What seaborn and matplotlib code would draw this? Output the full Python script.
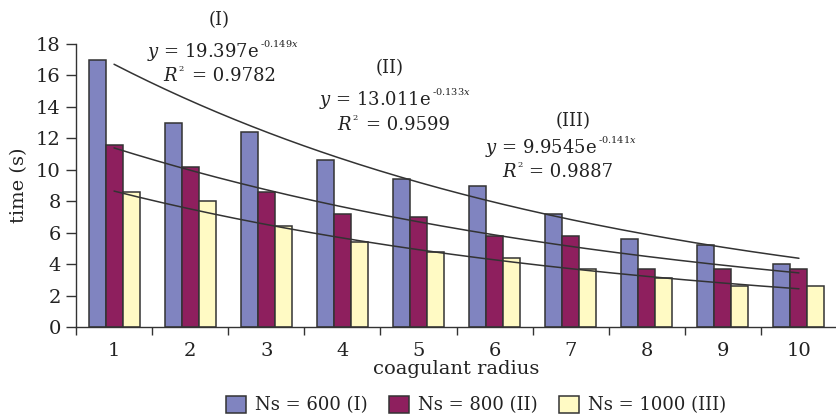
import numpy as np
import pandas as pd
import matplotlib
matplotlib.use("Agg")
import matplotlib.pyplot as plt
import seaborn as sns

radius = [1, 2, 3, 4, 5, 6, 7, 8, 9, 10]
series_names = ["Ns = 600 (I)", "Ns = 800 (II)", "Ns = 1000 (III)"]
ns600 = [17.0, 13.0, 12.4, 10.6, 9.4, 9.0, 7.2, 5.6, 5.2, 4.0]
ns800 = [11.6, 10.2, 8.6, 7.2, 7.0, 5.8, 5.8, 3.7, 3.7, 3.7]
ns1000 = [8.6, 8.0, 6.4, 5.4, 4.8, 4.4, 3.7, 3.1, 2.6, 2.6]
fit_a = [19.397, 13.011, 9.9545]
fit_k = ["-0.149", "-0.133", "-0.141"]
fit_r2 = ["0.9782", "0.9599", "0.9887"]
fit_tags = ["(I)", "(II)", "(III)"]
yticks = [0, 2, 4, 6, 8, 10, 12, 14, 16, 18]

colors = ["#8084C0", "#8E1F5E", "#FFFAC4"]
TXT = "#222222"

sns.set_theme(style="white")
plt.rcParams["font.family"] = ["DejaVu Serif"]
plt.rcParams["mathtext.fontset"] = "dejavuserif"

df = pd.DataFrame({
    "radius": radius * 3,
    "time": ns600 + ns800 + ns1000,
    "series": [series_names[0]] * 10 + [series_names[1]] * 10 + [series_names[2]] * 10,
})

W, H = 837, 417
fig = plt.figure(figsize=(W / 100, H / 100), dpi=100)
ax = fig.add_axes([76 / W, 1 - 327 / H, (W - 76) / W, (327 - 44) / H])

sns.barplot(data=df, x="radius", y="time", hue="series", hue_order=series_names,
            palette=colors, width=0.67, gap=0, edgecolor="#333333", linewidth=1.1,
            saturation=1, ax=ax, legend=True)

# exponential trend lines from the stated fit equations
xs = np.linspace(1, 10, 200)
for a, k in zip(fit_a, fit_k):
    ax.plot(xs - 1, a * np.exp(float(k) * xs), color="#333333", lw=1.1, zorder=5)

ax.set_xlim(-0.5, 9.5)
ax.set_ylim(0, 18)
ax.set_yticks(yticks)
ax.set_yticklabels([str(t) for t in yticks], fontsize=14, color=TXT)
ax.set_xticks(range(10))
ax.set_xticklabels([str(r) for r in radius], fontsize=14, color=TXT)
ax.set_xticks(np.arange(-0.5, 9.6, 1.0), minor=True)
ax.tick_params(axis="x", which="major", length=0, pad=11)
ax.tick_params(axis="x", which="minor", length=6, width=1, color="#333333", direction="out", bottom=True)
ax.tick_params(axis="y", which="major", length=7, width=1, color="#333333", direction="out", left=True, pad=4)
for s in ["top", "right"]:
    ax.spines[s].set_visible(False)
for s in ["left", "bottom"]:
    ax.spines[s].set_color("#333333")
    ax.spines[s].set_linewidth(1)
ax.set_xlabel("coagulant radius", fontsize=14, color=TXT, labelpad=0)
ax.set_ylabel("time (s)", fontsize=14, color=TXT, labelpad=6)

leg = ax.legend(loc="center", bbox_to_anchor=(476 / W, 12 / H), bbox_transform=fig.transFigure,
                ncol=3, frameon=False, fontsize=13, handlelength=1.1, handleheight=1.1,
                handletextpad=0.5, columnspacing=1.2)
for t in leg.get_texts():
    t.set_color(TXT)


def fx(x):
    return x / W


def fy(y):
    return 1 - y / H


# (tag center, tag y), (eq "e" end x, eq y), (R start x, "=" start x, R y)
pos = [((219, 20), (259, 52), (163, 192, 76)),
       ((390, 68), (431, 100), (337, 366, 125)),
       ((573, 121), (597, 148), (502, 529, 172))]
for tag, a, k, r2, p in zip(fit_tags, fit_a, fit_k, fit_r2, pos):
    fig.text(fx(p[0][0]), fy(p[0][1]), tag, ha="center", va="center", fontsize=13, color=TXT)
    fig.text(fx(p[1][0]), fy(p[1][1]), r"$y$ = " + f"{a:g}" + "e", ha="right", va="center",
             fontsize=13, color=TXT)
    fig.text(fx(p[1][0] + 1), fy(p[1][1] - 3), k + r"$x$", ha="left", va="bottom",
             fontsize=7, color=TXT)
    fig.text(fx(p[2][0]), fy(p[2][2]), r"$R$", ha="left", va="center", fontsize=13, color=TXT)
    fig.text(fx(p[2][0] + 15), fy(p[2][2] - 3), "2", ha="left", va="bottom", fontsize=6, color=TXT)
    fig.text(fx(p[2][1]), fy(p[2][2]), "= " + r2, ha="left", va="center", fontsize=13, color=TXT)

fig.savefig("out.png", dpi=100)
